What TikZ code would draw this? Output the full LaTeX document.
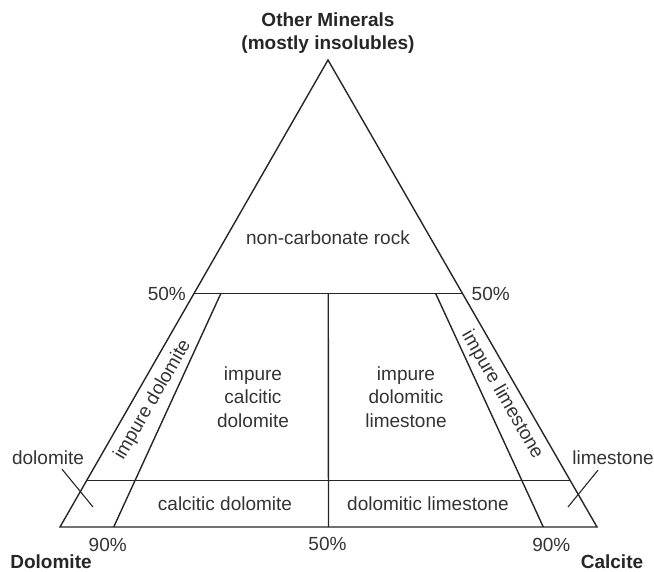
\documentclass[tikz,border=0pt]{standalone}
\usepackage{fontspec}
\setmainfont{Liberation Sans}
\usetikzlibrary{positioning,calc}

\begin{document}
\begin{tikzpicture}[
        x=1pt, y=-1pt,
        font=\fontsize{19}{23.5}\selectfont,
        edge/.style={draw=black!85, line width=1.4pt, line join=miter},
        leader/.style={draw=black!85, line width=1.1pt},
        field/.style={align=center, inner sep=0pt, text=black!80},
        corner/.style={align=center, inner sep=0pt, text=black!85, font=\fontsize{19}{23.5}\selectfont\bfseries},
        pct/.style={inner sep=0pt, text=black!80}
    ]
    \useasboundingbox (0,0) rectangle (654,572);

    % Corners
    \coordinate (top) at (328,60);
    \coordinate (dol) at (60,527);
    \coordinate (cal) at (597,527);

    % Points on the sides
    \coordinate (l50) at ($(top)!0.5!(dol)$);
    \coordinate (r50) at ($(top)!0.5!(cal)$);
    \coordinate (l90) at ($(top)!0.9!(dol)$);
    \coordinate (r90) at ($(top)!0.9!(cal)$);
    \coordinate (b10) at ($(dol)!0.1!(cal)$);
    \coordinate (b50) at ($(dol)!0.5!(cal)$);
    \coordinate (b90) at ($(dol)!0.9!(cal)$);

    % Triangle and field borders
    \draw[edge] (top) -- (dol) -- (cal) -- cycle;
    \draw[edge] (l50) -- (r50);
    \draw[edge] (l90) -- (r90);
    \draw[edge] ($(top)!0.5!(b10)$) -- (b10);
    \draw[edge] ($(top)!0.5!(b50)$) -- (b50);
    \draw[edge] ($(top)!0.5!(b90)$) -- (b90);

    % Corner names
    \node[corner, above=6pt of top] (other) {Other Minerals\\(mostly insolubles)};
    \node[corner] (dolomite) at (51,562) {Dolomite};
    \node[corner] (calcite) at (612,562) {Calcite};

    % Percentages
    \node[pct, anchor=east] (p50l) at ($(l50)+(-8,0)$) {50\%};
    \node[pct, anchor=west] (p50r) at ($(r50)+(9,0)$) {50\%};
    \node[pct] (p90l) at ($(b10)+(-6,18)$) {90\%};
    \node[pct] (p50b) at ($(b50)+(-1,17)$) {50\%};
    \node[pct] (p90r) at ($(b90)+(8,18)$) {90\%};

    % Fields
    \node[field] (noncarb) at (328,238) {non-carbonate rock};
    \node[field] (impCalDol) at (253,397) {impure\\calcitic\\dolomite};
    \node[field] (impDolLime) at (406,397) {impure\\dolomitic\\limestone};
    \node[field] (calDol) at (225,504) {calcitic dolomite};
    \node[field] (dolLime) at (428,504) {dolomitic limestone};
    \node[field, rotate=60] (impDol) at (153,400) {impure dolomite};
    \node[field, rotate=-60] (impLime) at (502,395) {impure limestone};

    % Outer labels with leaders
    \node[field] (dolLbl) at (48,458) {dolomite};
    \node[field] (limeLbl) at (613,458) {limestone};
    \coordinate (dolTip) at (93,507);
    \coordinate (limeTip) at (568,507);
    \draw[leader] ($(dolLbl.south)+(14,4)$) -- (dolTip);
    \draw[leader] ($(limeLbl.south)+(-15,5)$) -- (limeTip);

\end{tikzpicture}
\end{document}
